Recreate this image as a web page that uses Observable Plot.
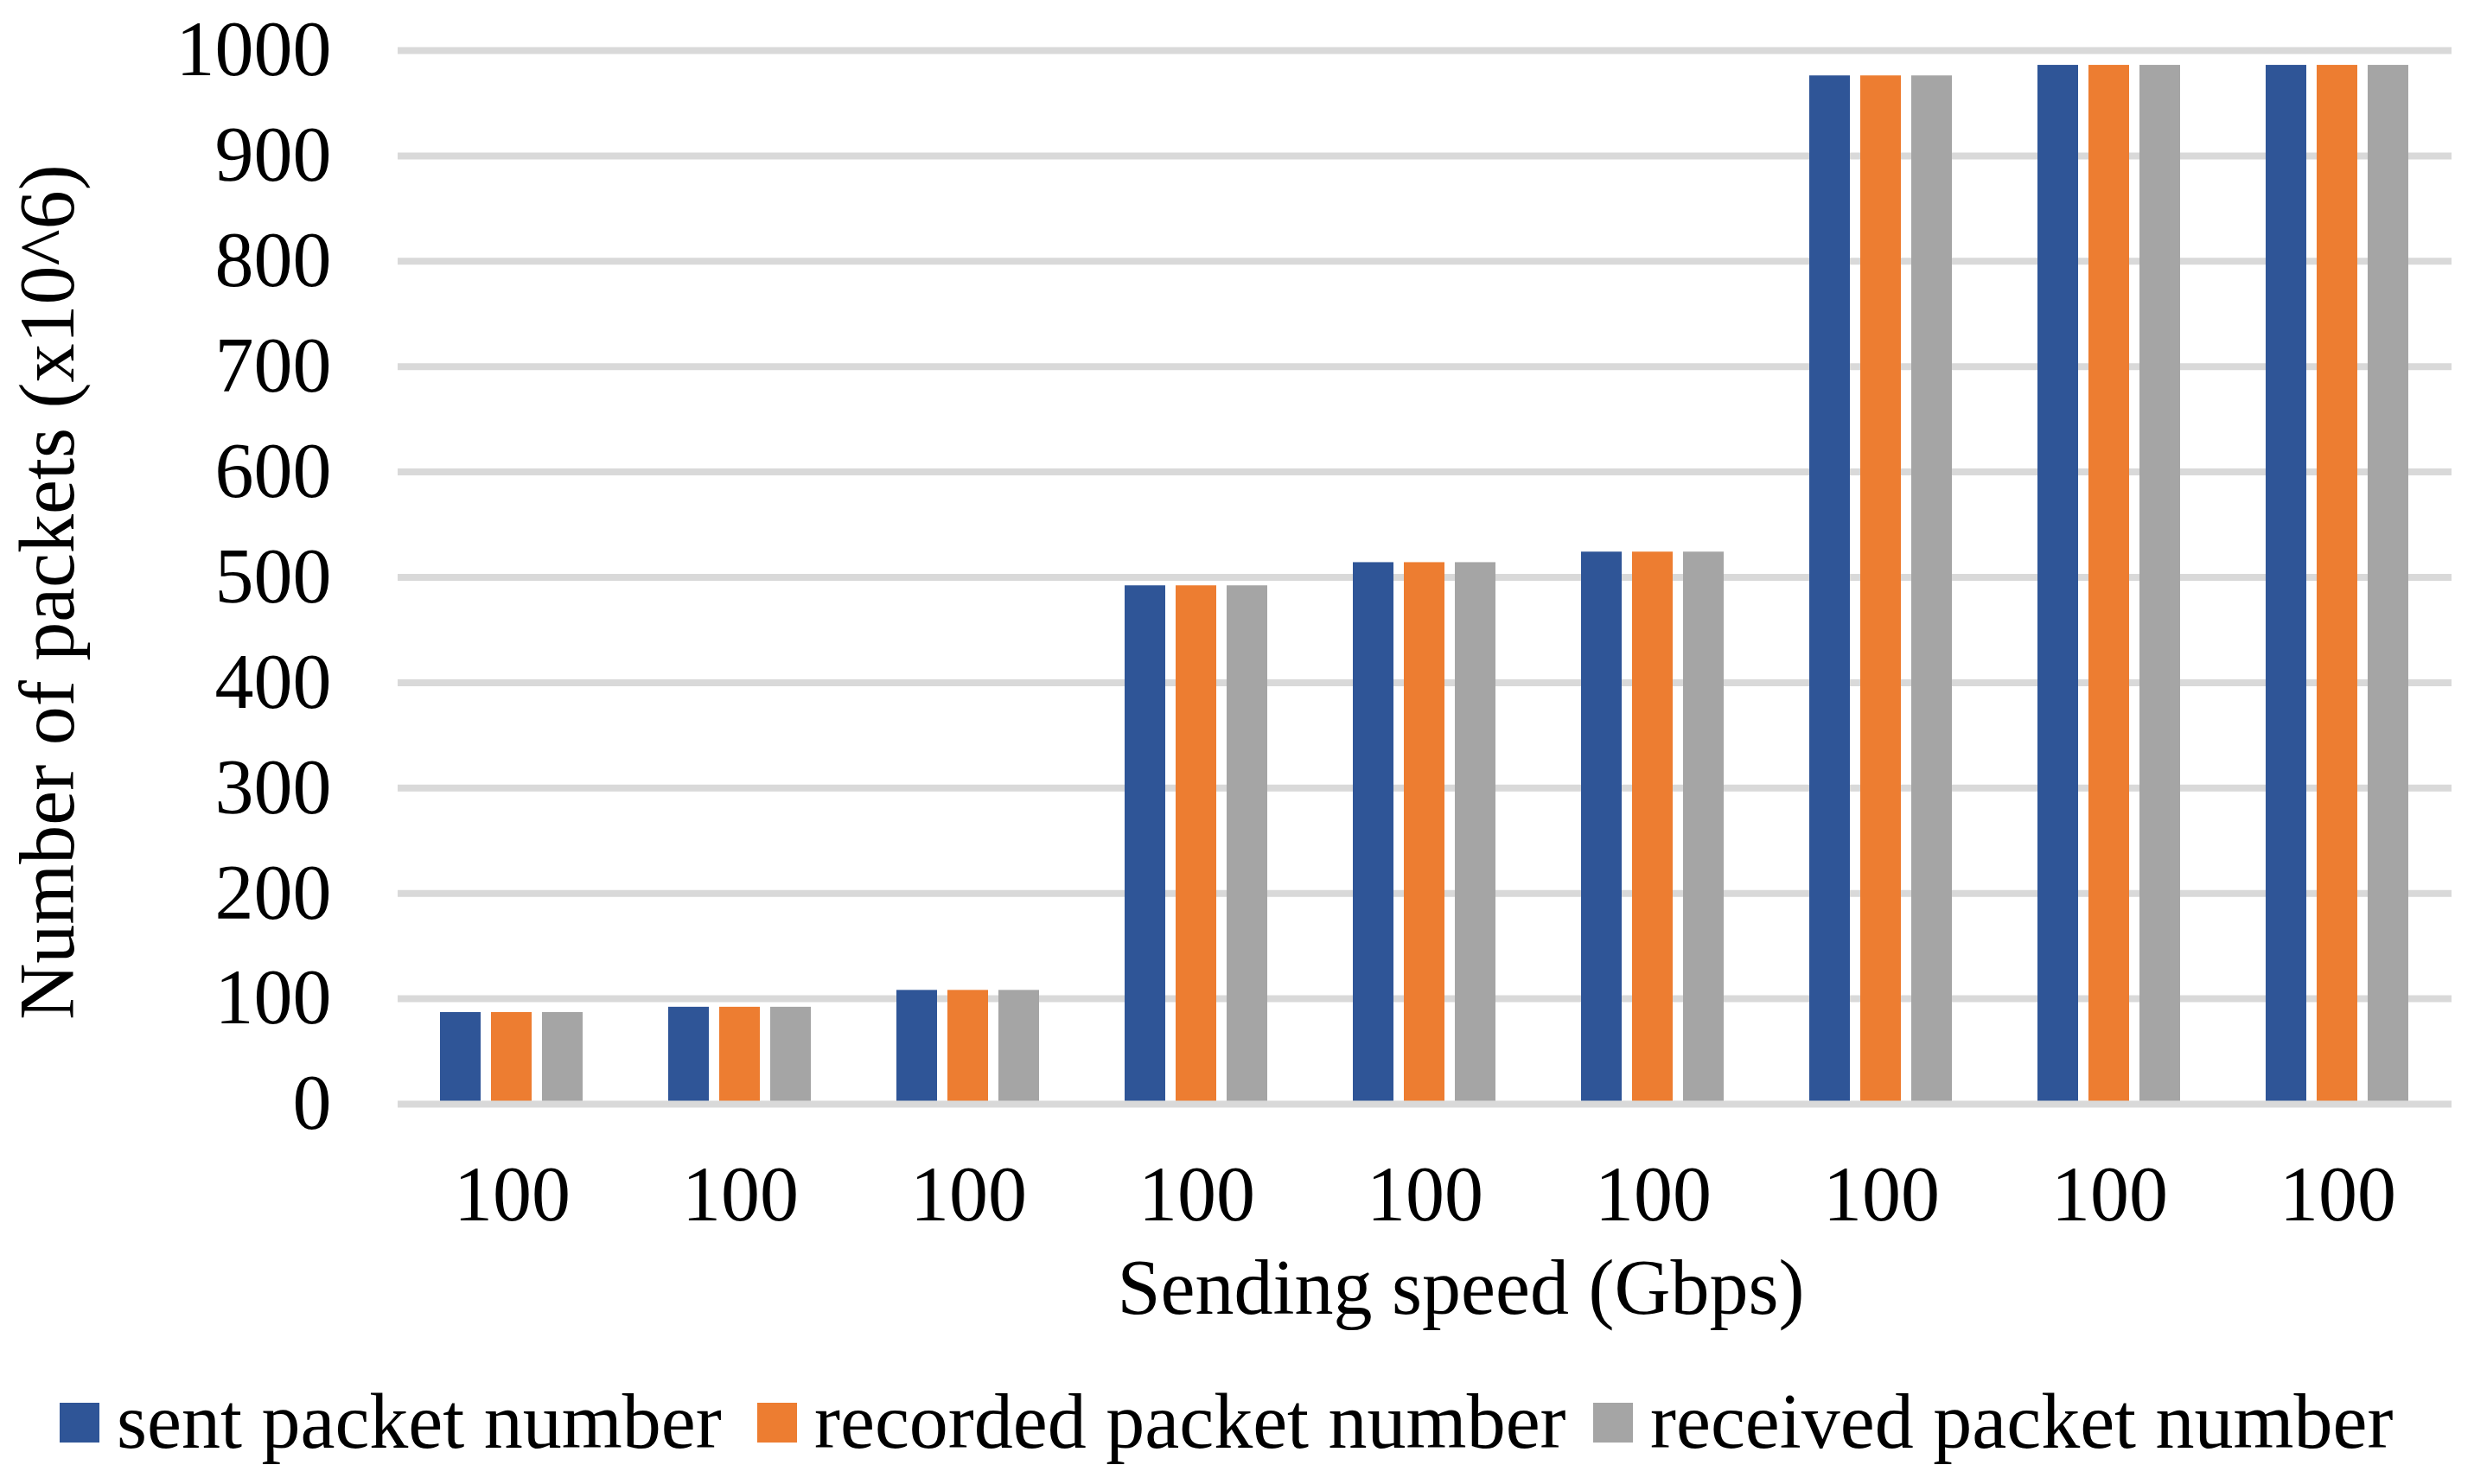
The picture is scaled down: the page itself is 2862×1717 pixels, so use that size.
<!DOCTYPE html>
<html>
<head>
<meta charset="utf-8">
<script src="https://cdn.jsdelivr.net/npm/d3@7"></script>
<script src="https://cdn.jsdelivr.net/npm/@observablehq/plot@0.6"></script>
<style>
  html, body { margin: 0; padding: 0; background: #fff; }
  #wrap { position: relative; width: 2862px; height: 1717px; font-family: "Liberation Serif", "Times New Roman", serif; color: #000; }
  #chart { position: absolute; left: 0; top: 0; }
  #ytitle { position: absolute; left: 55px; top: 685px; font-size: 90px; line-height: 100px; white-space: nowrap; transform: translate(-50%, -50%) rotate(-90deg); }
  #xtitle { position: absolute; left: 0; width: 2862px; top: 1440px; font-size: 90px; line-height: 100px; }
  #xtitle span { position: absolute; left: 1690px; transform: translateX(-50%); white-space: nowrap; }
  #legend { position: absolute; left: 0; width: 2862px; top: 1595px; height: 100px; font-size: 90px; line-height: 100px; }
  .item { position: absolute; top: 0; white-space: nowrap; }
  .sw { display: inline-block; width: 46px; height: 46px; vertical-align: top; margin-top: 28px; margin-right: 20px; }
</style>
</head>
<body>
<div id="wrap">
  <div id="chart"></div>
  <div id="ytitle">Number of packets (x10^6)</div>
  <div id="xtitle"><span>Sending speed (Gbps)</span></div>
  <div id="legend"></div>
</div>
<script>
const groups = [1, 2, 3, 4, 5, 6, 7, 8, 9];
const tickLabels = ["100", "100", "100", "100", "100", "100", "100", "100", "100"];
const seriesNames = ["sent packet number", "recorded packet number", "received packet number"];
const seriesColors = ["#2F5597", "#ED7D31", "#A5A5A5"];
const sent = [87, 92, 108, 492, 514, 524, 976, 986, 986];
const recorded = [87, 92, 108, 492, 514, 524, 976, 986, 986];
const received = [87, 92, 108, 492, 514, 524, 976, 986, 986];
const yTicks = [0, 100, 200, 300, 400, 500, 600, 700, 800, 900, 1000];

const seriesValues = [sent, recorded, received];
const data = [];
groups.forEach((g, i) => {
  seriesNames.forEach((s, j) => {
    data.push({group: g, series: s, value: seriesValues[j][i]});
  });
});

const W = 2862, H = 1440;
const plot = Plot.plot({
  width: W,
  height: H,
  marginLeft: 458,
  marginRight: 25,
  marginTop: 58,
  marginBottom: H - 1277,
  style: {fontFamily: "'Liberation Serif', 'Times New Roman', serif", fontSize: "90px", color: "#000", background: "#fff"},
  fx: {domain: groups, padding: 0, axis: "bottom", label: null, tickSize: 0, tickPadding: 71, tickFormat: (d) => tickLabels[groups.indexOf(d)]},
  x: {domain: seriesNames, axis: null, paddingInner: 0.2, paddingOuter: 0.8},
  y: {domain: [0, 1000], ticks: yTicks, tickSize: 0, tickPadding: 77, label: null, tickFormat: d => String(d)},
  color: {domain: seriesNames, range: seriesColors},
  marks: [
    Plot.ruleY(yTicks.filter(d => d > 0), {stroke: "#D9D9D9", strokeWidth: 8}),
    Plot.barY(data, {fx: "group", x: "series", y: "value", fill: "series"}),
    Plot.ruleY([0], {stroke: "#D9D9D9", strokeWidth: 8})
  ]
});
document.getElementById("chart").appendChild(plot);

const legend = document.getElementById("legend");
const lefts = [69, 876, 1843];
seriesNames.forEach((s, j) => {
  const it = document.createElement("div");
  it.className = "item";
  it.style.left = lefts[j] + "px";
  const sw = document.createElement("span");
  sw.className = "sw";
  sw.style.background = seriesColors[j];
  it.appendChild(sw);
  it.appendChild(document.createTextNode(s));
  legend.appendChild(it);
});
</script>
</body>
</html>
